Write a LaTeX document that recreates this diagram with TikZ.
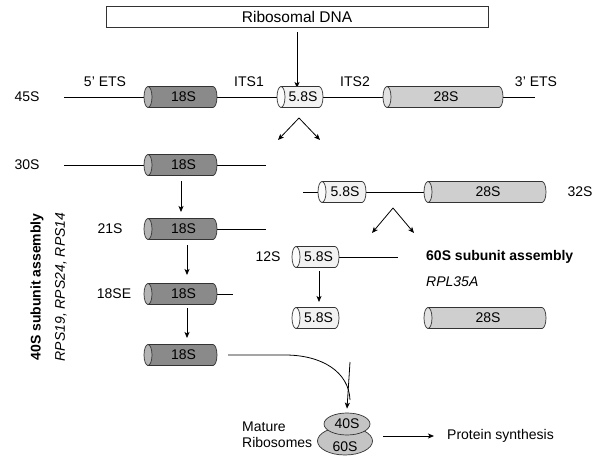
\documentclass[tikz,border=0pt]{standalone}
\usepackage{fontspec}
\setmainfont{Liberation Sans}
\usetikzlibrary{arrows.meta,shapes.geometric}
\definecolor{darkg}{HTML}{8A8A8A}
\definecolor{darkcap}{HTML}{B4B4B4}
\definecolor{lightg}{HTML}{F2F2F2}
\definecolor{lightcap}{HTML}{FBFBFB}
\definecolor{midg}{HTML}{CFCFCF}
\definecolor{midcap}{HTML}{E2E2E2}
\definecolor{ribog}{HTML}{C4C4C4}
\tikzset{
  lbl/.style={font=\fontsize{14}{16}\selectfont, inner sep=0pt},
  cylline/.style={draw=black!80, line width=0.7pt},
  conn/.style={line width=0.8pt},
  arr/.style={line width=0.8pt, -{Stealth[length=6pt,width=5pt,inset=1.5pt]}},
  ribo/.style={ellipse, draw=black!80, fill=ribog, line width=0.7pt, inner sep=0pt, font=\fontsize{14}{16}\selectfont}
}
% name, x1, x2, y (pixels, downward), body colour, cap colour, text
\newcommand{\mycyl}[7]{%
  \draw[cylline, fill=#5] ({#2+4},{-(#4)+10.5}) -- ({#3-4},{-(#4)+10.5})
     arc[start angle=90,end angle=-90,x radius=4,y radius=10.5]
     -- ({#2+4},{-(#4)-10.5}) -- cycle;
  \draw[cylline, fill=#6] ({#2+4},{-(#4)}) ellipse[x radius=4, y radius=10.5];
  \node[lbl] (#1) at ({(#2+#3)/2+3},{-(#4)}) {#7};
}
\begin{document}
\begin{tikzpicture}[x=1pt,y=1pt]
\useasboundingbox[fill=white] (0,0) rectangle (600,-460);

% Ribosomal DNA
\node[draw=black!80, line width=0.7pt, minimum width=382pt, minimum height=21pt, inner sep=0pt,
      font=\fontsize{15.5}{18}\selectfont] (rdna) at (297,-16.5) {Ribosomal DNA};
\coordinate (a45) at (297,-88);
\draw[arr] ([yshift=-5pt]rdna.south) -- (a45);

% 45S row
\coordinate (l45a) at (64,-97);
\coordinate (l45b) at (535,-97);
\draw[conn] (l45a) -- (l45b);
\mycyl{c18a}{144}{217}{97}{darkg}{darkcap}{18S}
\mycyl{c58a}{277}{323}{97}{lightg}{lightcap}{5.8S}
\mycyl{c28a}{383}{503}{97}{midg}{midcap}{28S}
\node[lbl] (t45) at (27,-97) {45S};
\node[lbl] (t5e) at (105,-82) {5' ETS};
\node[lbl] (ti1) at (249,-82) {ITS1};
\node[lbl] (ti2) at (355,-82) {ITS2};
\node[lbl] (t3e) at (536,-82) {3' ETS};

% split below 45S
\coordinate (s1) at (299,-118);
\coordinate (s1l) at (278,-140);
\coordinate (s1r) at (320,-140);
\draw[arr] (s1) -- (s1l);
\draw[arr] (s1) -- (s1r);

% 30S
\coordinate (l30a) at (64,-165);
\coordinate (l30b) at (266,-165);
\draw[conn] (l30a) -- (l30b);
\mycyl{c18b}{144}{217}{165}{darkg}{darkcap}{18S}
\node[lbl] (t30) at (27,-165) {30S};
\coordinate (d1a) at (181,-181);
\coordinate (d1b) at (181,-212);
\draw[arr] (d1a) -- (d1b);

% 21S
\coordinate (l21a) at (217,-229);
\coordinate (l21b) at (266,-229);
\draw[conn] (l21a) -- (l21b);
\mycyl{c18c}{144}{217}{229}{darkg}{darkcap}{18S}
\node[lbl] (t21) at (110,-229) {21S};
\coordinate (d2a) at (187,-245);
\coordinate (d2b) at (187,-275);
\draw[arr] (d2a) -- (d2b);

% 18SE
\coordinate (l18a) at (217,-294);
\coordinate (l18b) at (233,-294);
\draw[conn] (l18a) -- (l18b);
\mycyl{c18d}{144}{217}{294}{darkg}{darkcap}{18S}
\node[lbl] (t18e) at (114,-294) {18SE};
\coordinate (d3a) at (187,-308);
\coordinate (d3b) at (187,-338);
\draw[arr] (d3a) -- (d3b);

% mature 18S
\mycyl{c18e}{144}{217}{355}{darkg}{darkcap}{18S}
\coordinate (cv0) at (228,-355);
\coordinate (cv1) at (285,-355);
\coordinate (cv2) at (350,-400);

% 32S
\coordinate (l32a) at (303,-192);
\coordinate (l32b) at (425,-192);
\draw[conn] (l32a) -- (l32b);
\mycyl{c58b}{318}{366}{192}{lightg}{lightcap}{5.8S}
\mycyl{c28b}{424}{546}{192}{midg}{midcap}{28S}
\node[lbl] (t32) at (580,-192) {32S};
\coordinate (s2) at (393,-208);
\coordinate (s2l) at (372,-233);
\coordinate (s2r) at (414,-233);
\draw[arr] (s2) -- (s2l);
\draw[arr] (s2) -- (s2r);

% 12S
\coordinate (l12a) at (339,-257);
\coordinate (l12b) at (398,-257);
\draw[conn] (l12a) -- (l12b);
\mycyl{c58c}{292}{339}{257}{lightg}{lightcap}{5.8S}
\node[lbl] (t12) at (268,-257) {12S};
\node[lbl, anchor=west, font=\fontsize{14}{16}\selectfont\bfseries] (t60a) at (426,-257) {60S subunit assembly};
\node[lbl, anchor=west, font=\fontsize{14}{16}\selectfont\itshape] (t60b) at (426,-282) {RPL35A};
\coordinate (d4a) at (319,-271);
\coordinate (d4b) at (319,-302);
\draw[arr] (d4a) -- (d4b);

% mature 5.8S and 28S
\mycyl{c58d}{292}{339}{318}{lightg}{lightcap}{5.8S}
\mycyl{c28c}{424}{546}{318}{midg}{midcap}{28S}

% left vertical labels
\node[lbl, rotate=90, font=\fontsize{14}{16}\selectfont\bfseries] (v40a) at (37,-287) {40S subunit assembly};
\node[lbl, rotate=90, font=\fontsize{14}{16}\selectfont\itshape] (v40b) at (61,-287) {RPS19, RPS24, RPS14};

% ribosome
\node[ribo, minimum width=55pt, minimum height=28pt] (r60) at (345,-441) {};
\node[lbl] (r60t) at (345,-447) {60S};
\node[ribo, minimum width=46pt, minimum height=22pt] (r40) at (347,-424) {40S};
\coordinate (vt) at (350,-362);
\draw[conn] (cv0) -- (cv1) .. controls (322,-355) and (349,-372) .. (cv2);
\draw[arr] (vt) -- ([yshift=4pt]r40.north);
\node[lbl, anchor=west, align=left] (mat) at (242,-435) {Mature\\Ribosomes};
\node[lbl, anchor=west] (prot) at (447,-436) {Protein synthesis};
\coordinate (pa) at (383,-436);
\draw[arr, shorten >=13pt] (pa) -- (prot.west);
\end{tikzpicture}
\end{document}
